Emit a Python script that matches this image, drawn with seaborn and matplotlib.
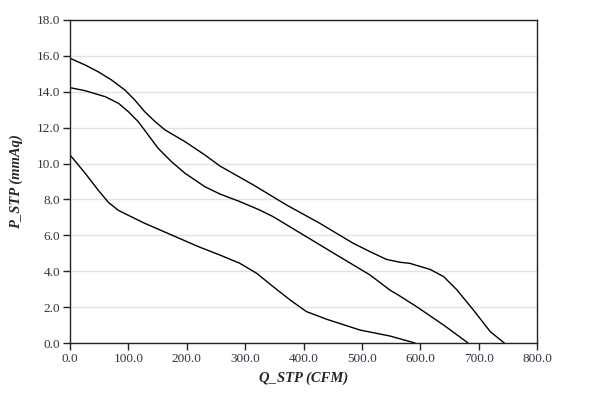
import numpy as np
import pandas as pd
import seaborn as sns
import matplotlib.pyplot as plt

# Curvas (Q en CFM, P en mmAq)
q_high = [0, 26, 48, 71, 94, 111, 128, 146, 163, 197, 231, 257, 314, 371, 428,
          485, 514, 542, 565, 582, 617, 640, 662, 691, 720, 744]
p_high = [15.87, 15.49, 15.12, 14.66, 14.1, 13.54, 12.89, 12.33, 11.87, 11.22, 10.48, 9.86, 8.81, 7.69, 6.67,
          5.56, 5.09, 4.66, 4.5, 4.44, 4.1, 3.7, 2.99, 1.84, 0.63, 0.0]

q_mid = [0, 26, 60, 83, 100, 117, 134, 151, 174, 197, 231, 257, 291, 325, 348,
         400, 457, 514, 548, 565, 594, 640, 682]
p_mid = [14.23, 14.06, 13.73, 13.36, 12.89, 12.33, 11.59, 10.85, 10.1, 9.46, 8.71, 8.3, 7.88, 7.41, 7.04,
         6.02, 4.9, 3.79, 2.95, 2.62, 2.02, 1.0, 0.0]

q_low = [0, 26, 48, 66, 83, 114, 128, 174, 220, 257, 291, 320, 348, 377, 405,
         440, 497, 548, 591]
p_low = [10.48, 9.46, 8.53, 7.83, 7.39, 6.89, 6.67, 6.02, 5.37, 4.9, 4.44, 3.88, 3.14, 2.4, 1.75,
         1.32, 0.72, 0.39, 0.0]

x_ticks = [0, 100, 200, 300, 400, 500, 600, 700, 800]
y_ticks = [0, 2, 4, 6, 8, 10, 12, 14, 16, 18]

frames = []
for name, q, p in [("high", q_high, p_high), ("mid", q_mid, p_mid), ("low", q_low, p_low)]:
    frames.append(pd.DataFrame({"Q": q, "P": p, "curve": name}))
df = pd.concat(frames, ignore_index=True)

sns.set_style("white")
plt.rcParams['font.family'] = ['Liberation Serif', 'DejaVu Serif']

fig = plt.figure(figsize=(6.14, 4.03), dpi=100)
ax = fig.add_axes([70 / 614, 60 / 403, 467 / 614, 323 / 403])

sns.lineplot(data=df, x="Q", y="P", units="curve", estimator=None, sort=False,
             color="black", linewidth=1.0, ax=ax)

ax.set_xlim(0, 800)
ax.set_ylim(0, 18)
ax.set_xticks(x_ticks)
ax.set_yticks(y_ticks)
ax.set_xticklabels([f"{v:.1f}" for v in x_ticks])
ax.set_yticklabels([f"{v:.1f}" for v in y_ticks])
ax.tick_params(axis="both", direction="out", length=5, width=1, color="#222222",
               labelsize=9.5, labelcolor="#333344", bottom=True, left=True, pad=2)
ax.yaxis.grid(True, color="#e2e2e2", linewidth=1)
ax.set_axisbelow(True)
for s in ax.spines.values():
    s.set_color("#222222")
    s.set_linewidth(1)

ax.set_xlabel("Q_STP (CFM)", fontsize=10.5, fontweight="bold", fontstyle="italic", labelpad=5)
ax.set_ylabel("P_STP (mmAq)", fontsize=10.5, fontweight="bold", fontstyle="italic", labelpad=10)

fig.savefig("out.png", dpi=100)
